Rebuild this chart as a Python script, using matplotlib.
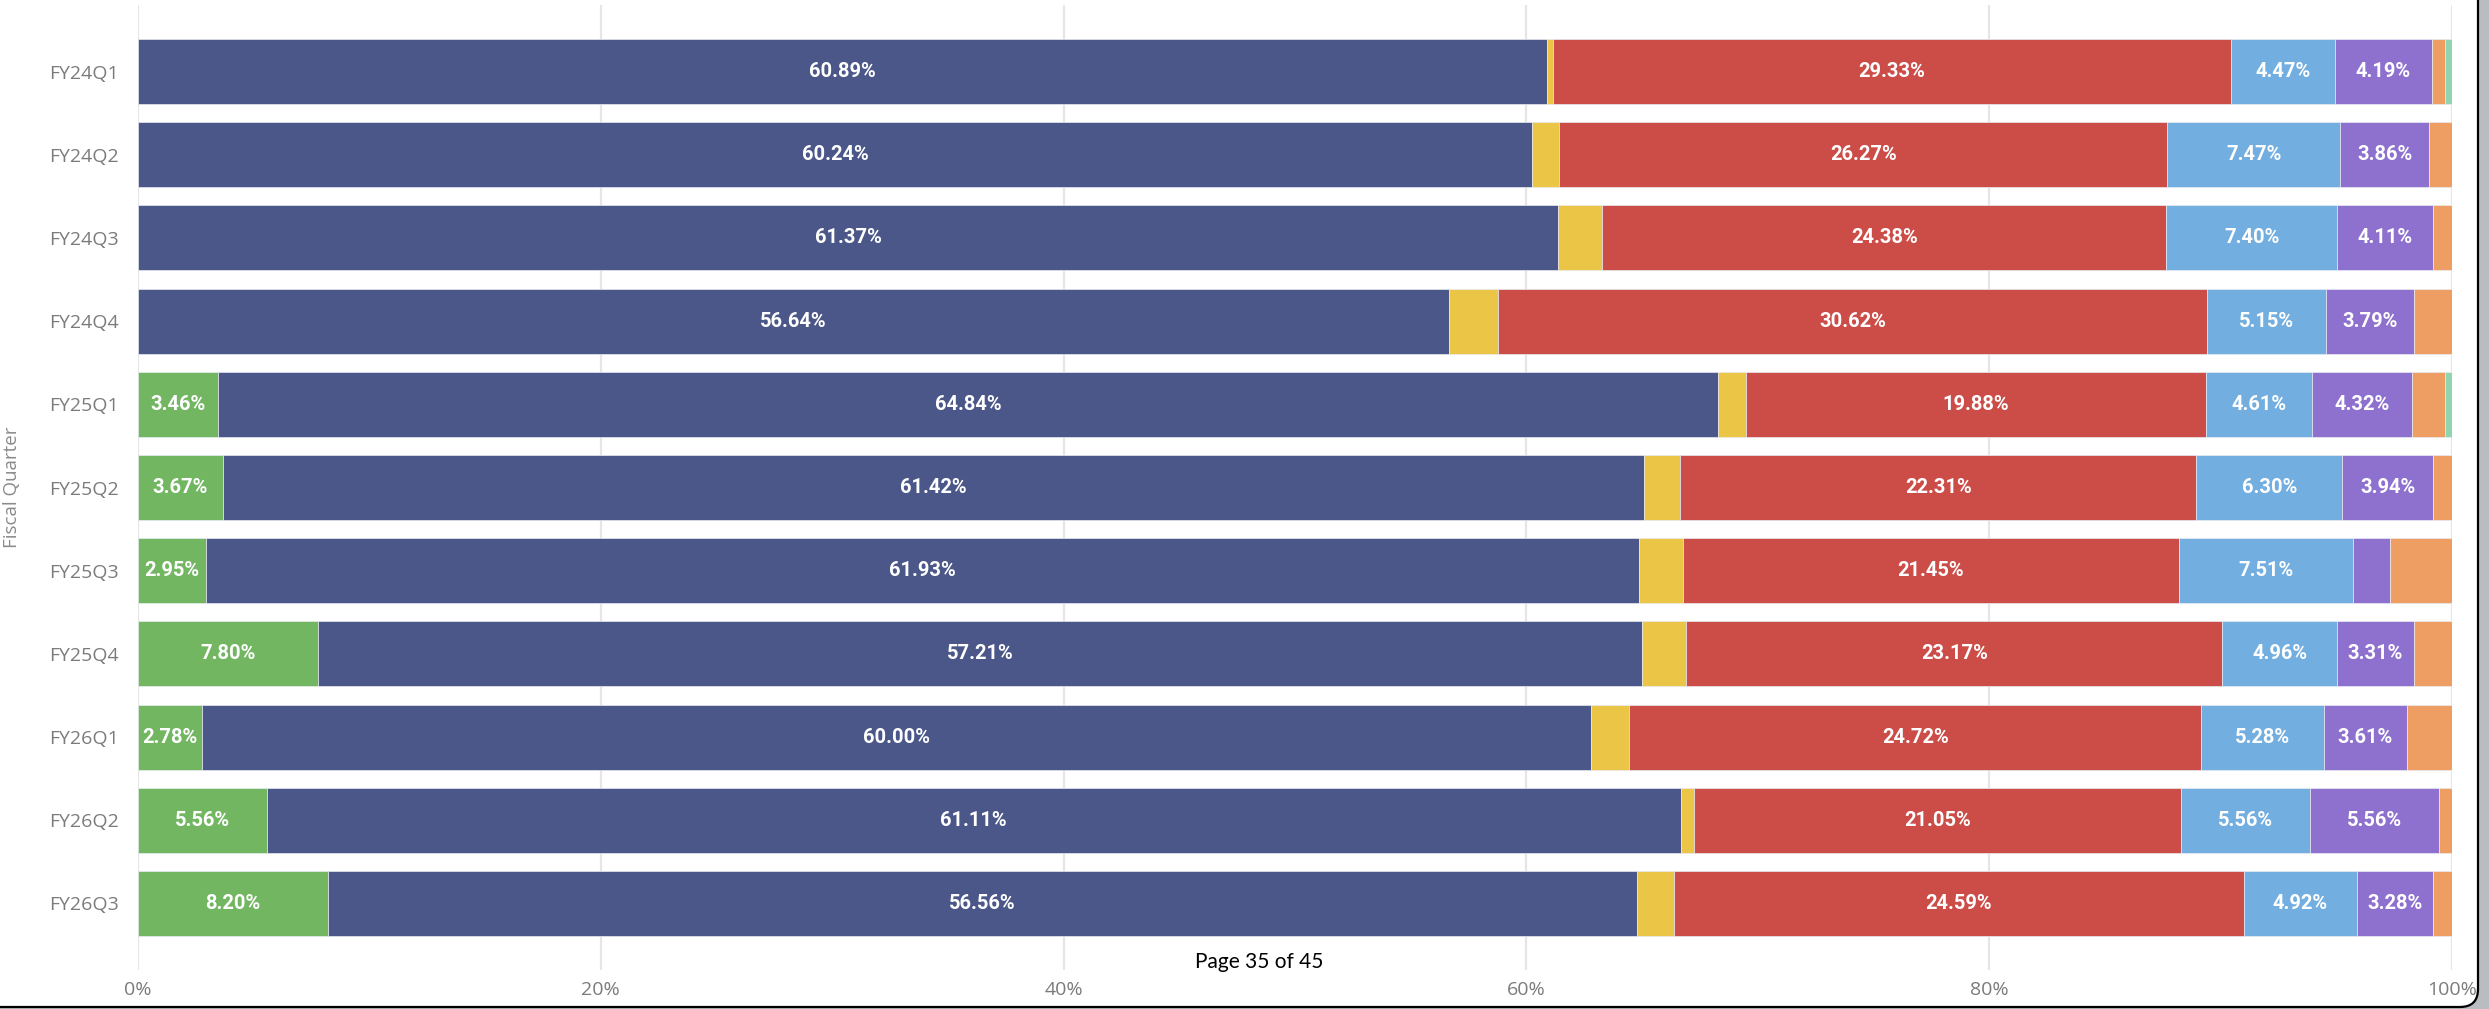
import matplotlib.pyplot as plt
from matplotlib.patches import FancyBboxPatch
from matplotlib.transforms import IdentityTransform

# Share of each segment per fiscal quarter (%)
quarters = ['FY24Q1', 'FY24Q2', 'FY24Q3', 'FY24Q4', 'FY25Q1', 'FY25Q2',
            'FY25Q3', 'FY25Q4', 'FY26Q1', 'FY26Q2', 'FY26Q3']
green = [0, 0, 0, 0, 3.46, 3.67, 2.95, 7.80, 2.78, 5.56, 8.20]
navy = [60.89, 60.24, 61.37, 56.64, 64.84, 61.42, 61.93, 57.21, 60.00, 61.11, 56.56]
yellow = [0.25, 1.18, 1.90, 2.15, 1.17, 1.55, 1.88, 1.90, 1.67, 0.58, 1.64]
red = [29.33, 26.27, 24.38, 30.62, 19.88, 22.31, 21.45, 23.17, 24.72, 21.05, 24.59]
light_blue = [4.47, 7.47, 7.40, 5.15, 4.61, 6.30, 7.51, 4.96, 5.28, 5.56, 4.92]
purple = [4.19, 3.86, 4.11, 3.79, 4.32, 3.94, 1.60, 3.31, 3.61, 5.56, 3.28]
orange = [0.55, 0.98, 0.84, 1.65, 1.40, 0.81, 2.68, 1.65, 1.94, 0.58, 0.81]
teal = [0.32, 0, 0, 0, 0.32, 0, 0, 0, 0, 0, 0]

series = [green, navy, yellow, red, light_blue, purple, orange, teal]
colors = ['#72B662', '#4A5788', '#EBC545', '#CC4C47',
          '#72AEE0', '#8E71CF', '#EE9D63', '#8ED5B0']

fig = plt.figure(figsize=(24.89, 10.09), dpi=100, facecolor='#B9BCC1')

# window frame: white page with rounded corner, grey strip on the right
frame = FancyBboxPatch((-40, 2), 2518, 1060, boxstyle='round,pad=0,rounding_size=18',
                       transform=IdentityTransform(), facecolor='white',
                       edgecolor='black', linewidth=1.6, zorder=-1)
fig.patches.append(frame)

ax = fig.add_axes([138 / 2489, 1 - 970 / 1009, 2314 / 2489, 965 / 1009])
ax.set_facecolor('white')

y = list(range(len(quarters)))
left = [0.0] * len(quarters)
for vals, col in zip(series, colors):
    ax.barh(y, vals, left=left, height=0.78, color=col,
            edgecolor='#E8ECF2', linewidth=0.5, zorder=3)
    for i, v in enumerate(vals):
        if v >= 2.75:
            ax.text(left[i] + v / 2, i, f'{v:.2f}%', ha='center', va='center',
                    color='white', fontsize=14.5, fontweight='semibold',
                    family=['Roboto', 'DejaVu Sans'], zorder=4)
    left = [l + v for l, v in zip(left, vals)]

ax.set_xlim(0, 100)
ax.set_ylim(len(quarters) - 0.2, -0.8)
ax.set_yticks(y)
ax.set_yticklabels(quarters)
ax.set_xticks(range(0, 101, 20))
ax.set_xticklabels([f'{t}%' for t in range(0, 101, 20)])
ax.tick_params(length=0, labelsize=14, labelcolor='#7B7B7B')
ax.tick_params(axis='y', pad=14)
ax.tick_params(axis='x', pad=8)
for lab in ax.get_xticklabels() + ax.get_yticklabels():
    lab.set_family(['Open Sans', 'DejaVu Sans'])

ax.xaxis.grid(True, color='#E6E6E6', linewidth=1.6, zorder=0)
ax.set_axisbelow(True)
for s in ax.spines.values():
    s.set_visible(False)

ax.set_ylabel('Fiscal Quarter', fontsize=13.5, color='#8A8A8A',
              family=['Open Sans', 'DejaVu Sans'])
ax.yaxis.set_label_coords(-0.0505, 0.5)

fig.text(1259 / 2489, 1 - 962 / 1009, 'Page 35 of 45', ha='center', va='center',
         fontsize=15, color='black', family=['Lato', 'DejaVu Sans'])

fig.savefig('out.png', dpi=100, facecolor=fig.get_facecolor())
